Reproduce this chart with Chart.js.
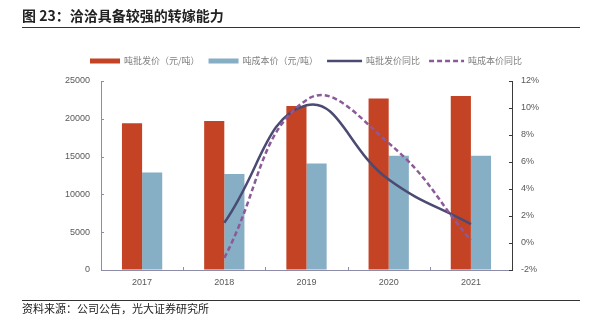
<!DOCTYPE html>
<html>
<head>
<meta charset="utf-8">
<script src="https://cdn.jsdelivr.net/npm/chart.js@4.4.1/dist/chart.umd.min.js"></script>
<style>
  html, body { margin: 0; padding: 0; background: #fff; }
  #wrap { position: relative; width: 593px; height: 327px; overflow: hidden; }
  #chart { position: absolute; left: 0; top: 0; }
  #title { position: absolute; left: 22px; top: 6px; font: bold 14px "Noto Sans CJK SC"; line-height: 18px; color: #222; }
  .rule { position: absolute; left: 22px; width: 558px; height: 1px; background: #333; }
  #source { position: absolute; left: 22px; top: 301px; font: 11px "Noto Sans CJK SC"; line-height: 14px; color: #222; }
</style>
</head>
<body>
<div id="wrap">
  <canvas id="chart" width="593" height="327"></canvas>
  <div id="title">图 23：洽洽具备较强的转嫁能力</div>
  <div class="rule" style="top:27px"></div>
  <div class="rule" style="top:300px"></div>
  <div id="source">资料来源：公司公告，光大证券研究所</div>
</div>
<script>
'use strict';

let canvasElem = document.getElementById('chart');

// yearly data
const years = ['2017', '2018', '2019', '2020', '2021'];
const wholesalePrice = [19400, 19700, 21700, 22700, 23000];   // 吨批发价
const costPrice = [12900, 12700, 14100, 15100, 15100];        // 吨成本价
const wholesaleYoy = [null, 1.5, 10.2, 4.7, 1.4];             // %
const costYoy = [null, -1.1, 10.6, 7.4, 0.2];                 // %

const priceTicks = [0, 25000, 5000];   // min, max, step
const pctTicks = [-2, 12, 2];

const tickFont = { family: '"Liberation Sans", Arial, sans-serif', size: 9 };

// legend across the top
const topLegend = {
  id: 'topLegend',
  afterDraw(chart) {
    const ctx = chart.ctx;
    let x = 90;
    const y = 61;
    ctx.save();
    ctx.font = '9px "Noto Sans CJK SC"';
    ctx.textBaseline = 'middle';
    chart.data.datasets.forEach(ds => {
      const w = ds.type === 'line' ? 35 : 30;
      if (ds.type === 'line') {
        ctx.strokeStyle = ds.borderColor;
        ctx.lineWidth = 2.5;
        ctx.setLineDash(ds.borderDash || []);
        ctx.beginPath();
        ctx.moveTo(x, y);
        ctx.lineTo(x + w, y);
        ctx.stroke();
        ctx.setLineDash([]);
      } else {
        ctx.fillStyle = ds.backgroundColor;
        ctx.fillRect(x, y - 2.5, w, 5);
      }
      x += w + 4;
      ctx.fillStyle = '#808080';
      ctx.fillText(ds.label, x, y);
      x += ctx.measureText(ds.label).width + 9;
    });
    ctx.restore();
  }
};

// small tick marks pointing into the plot
const innerTicks = {
  id: 'innerTicks',
  afterDatasetsDraw(chart) {
    const ctx = chart.ctx;
    const { left, right, bottom } = chart.chartArea;
    const y = chart.scales.y, y1 = chart.scales.y1;
    ctx.save();
    ctx.lineWidth = 1;
    ctx.strokeStyle = '#8d8daa';
    y.ticks.forEach(t => {
      const py = Math.round(y.getPixelForValue(t.value)) + 0.5;
      ctx.beginPath(); ctx.moveTo(left, py); ctx.lineTo(left + 3, py); ctx.stroke();
    });
    const step = (right - left) / years.length;
    for (let i = 1; i < years.length; i++) {
      const px = Math.round(left + i * step) + 0.5;
      ctx.beginPath(); ctx.moveTo(px, bottom); ctx.lineTo(px, bottom - 3); ctx.stroke();
    }
    ctx.strokeStyle = '#3a3a3a';
    y1.ticks.forEach(t => {
      const py = Math.round(y1.getPixelForValue(t.value)) + 0.5;
      ctx.beginPath(); ctx.moveTo(right - 3, py); ctx.lineTo(right, py); ctx.stroke();
    });
    ctx.restore();
  }
};

function renderChart() {
  let chartObj = {
    data: {
      labels: years,
      datasets: [
        {
          type: 'bar',
          label: '吨批发价（元/吨）',
          data: wholesalePrice,
          backgroundColor: '#c44324',
          yAxisID: 'y',
          order: 2,
          barPercentage: 1,
          categoryPercentage: 0.49
        },
        {
          type: 'bar',
          label: '吨成本价（元/吨）',
          data: costPrice,
          backgroundColor: '#86aec4',
          yAxisID: 'y',
          order: 2,
          barPercentage: 1,
          categoryPercentage: 0.49
        },
        {
          type: 'line',
          label: '吨批发价同比',
          data: wholesaleYoy,
          borderColor: '#4b4a73',
          borderWidth: 2.5,
          pointRadius: 0,
          tension: 0.45,
          yAxisID: 'y1',
          order: 1
        },
        {
          type: 'line',
          label: '吨成本价同比',
          data: costYoy,
          borderColor: '#8c5a98',
          borderWidth: 2.5,
          borderDash: [5, 3],
          pointRadius: 0,
          tension: 0.45,
          yAxisID: 'y1',
          order: 0
        }
      ]
    },
    options: {
      responsive: false,
      animation: false,
      layout: { padding: { top: 81, left: 0, right: 0, bottom: 0 } },
      plugins: {
        legend: { display: false },
        tooltip: { enabled: false }
      },
      scales: {
        x: {
          offset: true,
          grid: { display: false, drawTicks: false },
          border: { display: true, color: '#8d8daa', width: 1 },
          ticks: { color: '#595959', font: tickFont, padding: 7 },
          afterFit: s => { s.height = 57; }
        },
        y: {
          position: 'left',
          min: priceTicks[0],
          max: priceTicks[1],
          grid: { drawOnChartArea: false, drawTicks: false },
          border: { display: true, color: '#8d8daa', width: 1 },
          ticks: {
            stepSize: priceTicks[2],
            color: '#595959',
            font: tickFont,
            padding: 11,
            callback: v => String(v)
          },
          afterFit: s => { s.width = 101; }
        },
        y1: {
          position: 'right',
          min: pctTicks[0],
          max: pctTicks[1],
          grid: { drawOnChartArea: false, drawTicks: false },
          border: { display: true, color: '#3a3a3a', width: 1 },
          ticks: {
            stepSize: pctTicks[2],
            color: '#595959',
            font: tickFont,
            padding: 9,
            callback: v => v + '%'
          },
          afterFit: s => { s.width = 81; }
        }
      }
    },
    plugins: [topLegend, innerTicks]
  };

  new Chart(canvasElem, chartObj);
}

renderChart();
</script>
</body>
</html>
